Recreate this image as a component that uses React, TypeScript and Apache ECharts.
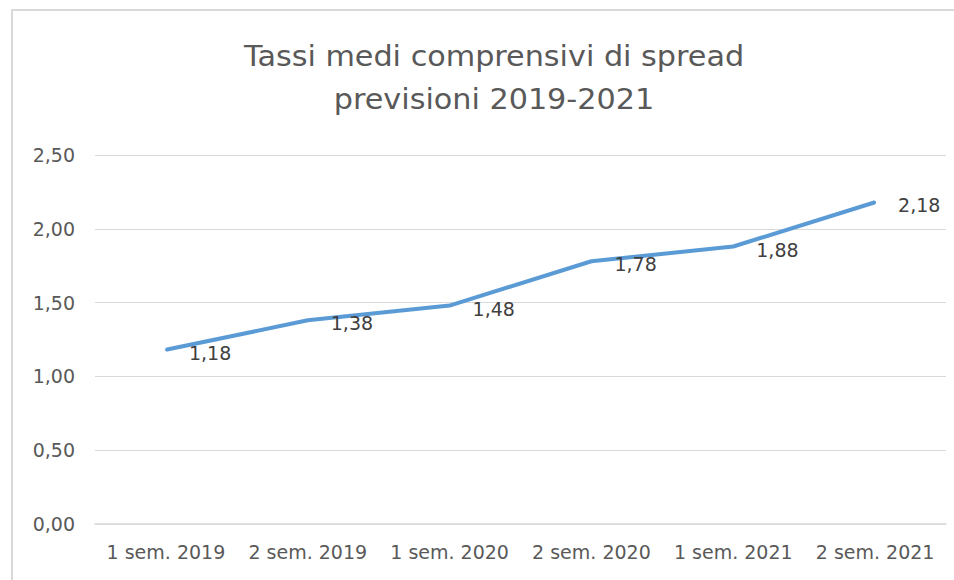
import React, { useEffect, useRef } from "react";
import * as echarts from "echarts";

const categories = ["1 sem. 2019", "2 sem. 2019", "1 sem. 2020", "2 sem. 2020", "1 sem. 2021", "2 sem. 2021"];
const values = [1.18, 1.38, 1.48, 1.78, 1.88, 2.18];
const titleLines = ["Tassi medi comprensivi di spread", "previsioni 2019-2021"];

const FONT = "'DejaVu Sans', sans-serif";
const fmt = (v: number) => v.toFixed(2).replace(".", ",");

export default function App() {
  const ref = useRef<HTMLDivElement>(null);
  useEffect(() => {
    if (!ref.current) return;
    const chart = echarts.init(ref.current, null, { renderer: "svg" });
    chart.setOption({
      animation: false,
      backgroundColor: "#ffffff",
      textStyle: { fontFamily: FONT },
      graphic: [
        {
          type: "rect",
          shape: { x: 12, y: 10, width: 980, height: 620 },
          style: { fill: "none", stroke: "#d9d9d9", lineWidth: 2 },
          silent: true,
        },
        {
          type: "text",
          x: 494,
          y: 78,
          scaleX: 1.08,
          style: {
            text: titleLines.join("\n"),
            fontFamily: FONT,
            fontSize: 28,
            lineHeight: 43,
            fill: "#595959",
            align: "center",
            verticalAlign: "middle",
          },
        },
      ],
      grid: { left: 95, right: 8, top: 155, bottom: 56, containLabel: false },
      xAxis: {
        type: "category",
        data: categories,
        boundaryGap: true,
        axisLine: { lineStyle: { color: "#d9d9d9", width: 1.5 } },
        axisTick: { show: false },
        axisLabel: { color: "#595959", fontSize: 19, margin: 18, interval: 0, hideOverlap: false, fontFamily: FONT },
      },
      yAxis: {
        type: "value",
        min: 0,
        max: 2.5,
        interval: 0.5,
        axisLine: { show: false },
        axisTick: { show: false },
        splitLine: { lineStyle: { color: "#d9d9d9", width: 1 } },
        axisLabel: { color: "#595959", fontSize: 19, margin: 20, formatter: (v: number) => fmt(v), fontFamily: FONT },
      },
      series: [
        {
          type: "line",
          data: values,
          symbol: "circle",
          symbolSize: 2,
          showSymbol: true,
          itemStyle: { color: "#5b9bd5" },
          lineStyle: { color: "#5b9bd5", width: 4 },
          label: {
            show: true,
            position: "right",
            distance: 22,
            offset: [0, 3],
            color: "#404040",
            fontSize: 19,
            fontFamily: FONT,
            formatter: (p: any) => fmt(p.value),
          },
        },
      ],
    });
    return () => chart.dispose();
  }, []);
  return <div ref={ref} style={{ position: "fixed", left: 0, top: 0, width: 954, height: 580 }} />;
}
